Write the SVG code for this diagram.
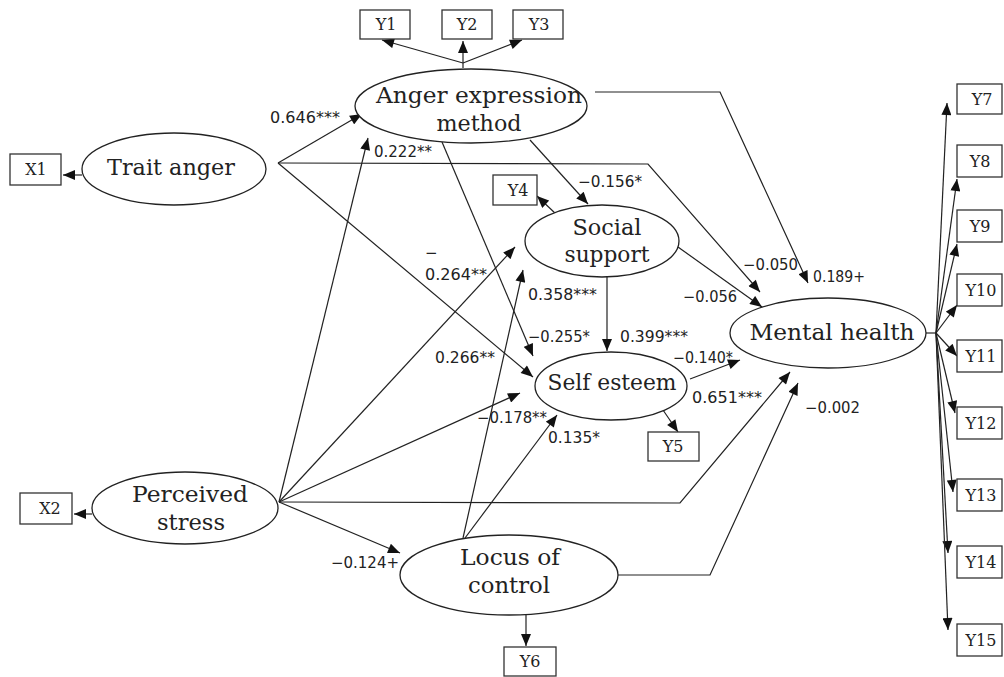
<svg xmlns="http://www.w3.org/2000/svg" width="1004" height="677" viewBox="0 0 1004 677">
<defs>
<marker id="ah" viewBox="0 0 12 10" refX="12" refY="5" markerWidth="13" markerHeight="10" markerUnits="userSpaceOnUse" orient="auto">
<path d="M0,0 L12,5 L0,10 Z" fill="#111"/>
</marker>
<style>
.node ellipse{fill:#fff;stroke:#222;stroke-width:1.3}
.box rect{fill:#fff;stroke:#333;stroke-width:1.3}
.lbl{font-family:"DejaVu Serif","Liberation Serif",serif;font-size:22px;fill:#222;text-anchor:middle}
.bl{font-family:"DejaVu Serif","Liberation Serif",serif;font-size:16px;fill:#222;text-anchor:middle}
.coef{font-family:"DejaVu Sans","Liberation Sans",sans-serif;font-size:15px;fill:#222}
#connectors path{fill:none;stroke:#222;stroke-width:1.2}
.arr{marker-end:url(#ah)}
</style>
</defs>
<rect width="1004" height="677" fill="#fff"/>

<g id="connectors">
<path class="arr" d="M463,63 L382,40"/>
<path class="arr" d="M463,68 L463,41"/>
<path class="arr" d="M463,63 L522,40"/>
<path class="arr" d="M82,175 L63,175"/>
<path class="arr" d="M92,514 L74,514"/>
<path class="arr" d="M278,163 L362,114"/>
<path class="arr" d="M278,163 L648,164 L760,292"/>
<path class="arr" d="M278,163 L533,377"/>
<path class="arr" d="M279,502 L368,138"/>
<path class="arr" d="M279,502 L515,247"/>
<path class="arr" d="M279,502 L520,393"/>
<path class="arr" d="M279,502 L680,503 L790,372"/>
<path class="arr" d="M279,502 L400,553"/>
<path class="arr" d="M530,140 L588,204"/>
<path class="arr" d="M442,142 L533,356"/>
<path class="arr" d="M595,92 L720,92 L808,283"/>
<path class="arr" d="M557,215 L537,196"/>
<path class="arr" d="M678,247 L762,307"/>
<path class="arr" d="M607,277 L607,351"/>
<path class="arr" d="M463,538 L523,270"/>
<path class="arr" d="M465,538 L557,415"/>
<path class="arr" d="M618,575 L710,575 L798,383"/>
<path class="arr" d="M526,615 L526,646"/>
<path class="arr" d="M663,410 L678,432"/>
<path class="arr" d="M690,379 L740,360"/>
<path d="M926,333 L936,333"/>
<path class="arr" d="M936,333 L947,103"/>
<path class="arr" d="M936,333 L957,179"/>
<path class="arr" d="M936,333 L957,244"/>
<path class="arr" d="M936,333 L957,305"/>
<path class="arr" d="M936,333 L957,356"/>
<path class="arr" d="M936,333 L955,413"/>
<path class="arr" d="M936,333 L953,492"/>
<path class="arr" d="M936,333 L948,553"/>
<path class="arr" d="M936,333 L948,630"/>
</g>

<g id="anger" class="node">
<ellipse cx="471" cy="106" rx="116" ry="37"/>
<text class="lbl" x="479" y="103" textLength="206" lengthAdjust="spacingAndGlyphs">Anger expression</text>
<text class="lbl" x="479" y="131" textLength="85" lengthAdjust="spacingAndGlyphs">method</text>
</g>
<g id="trait" class="node">
<ellipse cx="174" cy="169" rx="92" ry="36"/>
<text class="lbl" x="171" y="175" textLength="128" lengthAdjust="spacingAndGlyphs">Trait anger</text>
</g>
<g id="social" class="node">
<ellipse cx="602" cy="241" rx="77" ry="36"/>
<text class="lbl" x="607" y="235" textLength="69" lengthAdjust="spacingAndGlyphs">Social</text>
<text class="lbl" x="607" y="262" textLength="85" lengthAdjust="spacingAndGlyphs">support</text>
</g>
<g id="selfesteem" class="node">
<ellipse cx="611" cy="386" rx="76" ry="34"/>
<text class="lbl" x="612" y="390" textLength="129" lengthAdjust="spacingAndGlyphs">Self esteem</text>
</g>
<g id="mental" class="node">
<ellipse cx="828" cy="333" rx="98" ry="35"/>
<text class="lbl" x="832" y="340" textLength="165" lengthAdjust="spacingAndGlyphs">Mental health</text>
</g>
<g id="perceived" class="node">
<ellipse cx="185" cy="508" rx="93" ry="36"/>
<text class="lbl" x="190" y="502" textLength="116" lengthAdjust="spacingAndGlyphs">Perceived</text>
<text class="lbl" x="191" y="530" textLength="68" lengthAdjust="spacingAndGlyphs">stress</text>
</g>
<g id="locus" class="node">
<ellipse cx="509" cy="575" rx="109" ry="40"/>
<text class="lbl" x="510" y="565" textLength="100" lengthAdjust="spacingAndGlyphs">Locus of</text>
<text class="lbl" x="509" y="593" textLength="82" lengthAdjust="spacingAndGlyphs">control</text>
</g>

<g id="Y1" class="box"><rect x="360" y="10" width="50" height="29"/><text class="bl" x="386" y="30">Y1</text></g>
<g id="Y2" class="box"><rect x="442" y="10" width="50" height="29"/><text class="bl" x="467" y="30">Y2</text></g>
<g id="Y3" class="box"><rect x="513" y="10" width="50" height="29"/><text class="bl" x="539" y="30">Y3</text></g>
<g id="Y4" class="box"><rect x="493" y="175" width="44" height="30"/><text class="bl" x="518" y="196">Y4</text></g>
<g id="Y5" class="box"><rect x="648" y="432" width="51" height="29"/><text class="bl" x="673" y="452">Y5</text></g>
<g id="Y6" class="box"><rect x="504" y="647" width="52" height="29"/><text class="bl" x="530" y="667">Y6</text></g>
<g id="X1" class="box"><rect x="10" y="154" width="51" height="31"/><text class="bl" x="36" y="175">X1</text></g>
<g id="X2" class="box"><rect x="20" y="493" width="52" height="31"/><text class="bl" x="50" y="514">X2</text></g>
<g id="Y7" class="box"><rect x="957" y="84" width="45" height="30"/><text class="bl" x="982" y="105">Y7</text></g>
<g id="Y8" class="box"><rect x="957" y="145" width="45" height="32"/><text class="bl" x="980" y="167">Y8</text></g>
<g id="Y9" class="box"><rect x="957" y="210" width="45" height="32"/><text class="bl" x="980" y="232">Y9</text></g>
<g id="Y10" class="box"><rect x="957" y="274" width="45" height="32"/><text class="bl" x="981" y="296">Y10</text></g>
<g id="Y11" class="box"><rect x="957" y="340" width="45" height="32"/><text class="bl" x="981" y="362">Y11</text></g>
<g id="Y12" class="box"><rect x="957" y="407" width="45" height="32"/><text class="bl" x="981" y="429">Y12</text></g>
<g id="Y13" class="box"><rect x="957" y="479" width="45" height="32"/><text class="bl" x="981" y="501">Y13</text></g>
<g id="Y14" class="box"><rect x="957" y="546" width="45" height="32"/><text class="bl" x="981" y="568">Y14</text></g>
<g id="Y15" class="box"><rect x="957" y="624" width="45" height="32"/><text class="bl" x="981" y="646">Y15</text></g>

<g id="coefficients">
<text class="coef" x="270" y="123" textLength="70" lengthAdjust="spacingAndGlyphs">0.646***</text>
<text class="coef" x="374" y="157" textLength="58" lengthAdjust="spacingAndGlyphs">0.222**</text>
<text class="coef" x="578" y="187" textLength="64" lengthAdjust="spacingAndGlyphs">−0.156*</text>
<text class="coef" x="425" y="258">−</text>
<text class="coef" x="425" y="280" textLength="62" lengthAdjust="spacingAndGlyphs">0.264**</text>
<text class="coef" x="528" y="300" textLength="69" lengthAdjust="spacingAndGlyphs">0.358***</text>
<text class="coef" x="743" y="270" textLength="55" lengthAdjust="spacingAndGlyphs">−0.050</text>
<text class="coef" x="813" y="282" textLength="52" lengthAdjust="spacingAndGlyphs">0.189+</text>
<text class="coef" x="683" y="302" textLength="54" lengthAdjust="spacingAndGlyphs">−0.056</text>
<text class="coef" x="528" y="342" textLength="62" lengthAdjust="spacingAndGlyphs">−0.255*</text>
<text class="coef" x="620" y="342" textLength="68" lengthAdjust="spacingAndGlyphs">0.399***</text>
<text class="coef" x="435" y="363" textLength="60" lengthAdjust="spacingAndGlyphs">0.266**</text>
<text class="coef" x="673" y="363" textLength="60" lengthAdjust="spacingAndGlyphs">−0.140*</text>
<text class="coef" x="692" y="403" textLength="70" lengthAdjust="spacingAndGlyphs">0.651***</text>
<text class="coef" x="805" y="413" textLength="55" lengthAdjust="spacingAndGlyphs">−0.002</text>
<text class="coef" x="477" y="423" textLength="70" lengthAdjust="spacingAndGlyphs">−0.178**</text>
<text class="coef" x="548" y="443" textLength="52" lengthAdjust="spacingAndGlyphs">0.135*</text>
<text class="coef" x="331" y="568" textLength="68" lengthAdjust="spacingAndGlyphs">−0.124+</text>
</g>
</svg>
